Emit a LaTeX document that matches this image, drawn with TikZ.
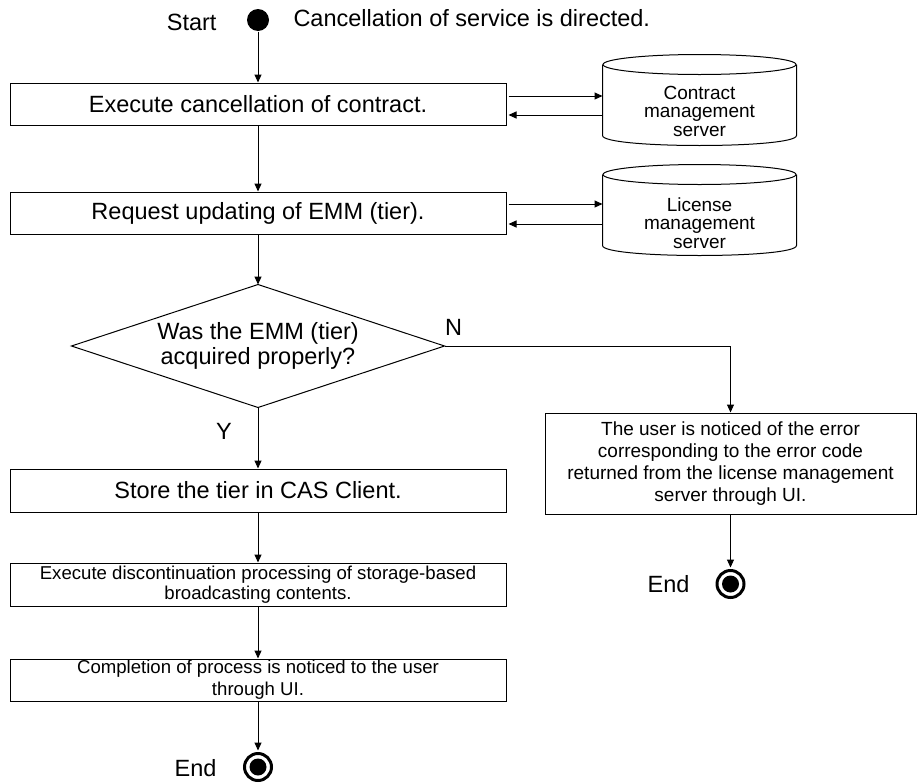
\documentclass[tikz,border=0pt]{standalone}
\usepackage{fontspec}
\setmainfont{Liberation Sans}
\usetikzlibrary{arrows.meta,calc}
\begin{document}
\begin{tikzpicture}[x=1pt,y=-1pt,line width=1pt,
  arr/.style={-{Triangle[length=8pt,width=7pt]}},
  bigfont/.style={font=\fontsize{23.5}{24.5}\selectfont},
  smallfont/.style={font=\fontsize{18.6}{19.5}\selectfont},
  lbl/.style={bigfont,inner sep=0pt},
  stepbox/.style={draw,rectangle,minimum width=496pt,inner sep=0pt,align=center},
  errbox/.style={draw,rectangle,minimum width=371pt,minimum height=101pt,inner sep=0pt,align=center,
    font=\fontsize{19}{22}\selectfont},
  decision/.style={rectangle,minimum width=372pt,minimum height=122pt,inner sep=0pt,align=center,bigfont},
  dbbody/.style={rectangle,minimum width=193pt,minimum height=90pt,inner sep=0pt},
  dbtext/.style={inner sep=0pt,align=center,font=\fontsize{19}{18.5}\selectfont},
  startpt/.style={circle,fill=black,minimum size=22pt,inner sep=0pt},
  endpt/.style={circle,draw,line width=3pt,minimum size=27pt,inner sep=0pt}
]
\useasboundingbox (0,0) rectangle (917,782);

% start
\node[startpt] (start) at (258,20) {};
\node[lbl,anchor=east] (startlbl) at (217,22) {Start};
\node[lbl,anchor=west] (startnote) at (293,18) {Cancellation of service is directed.};

% main column
\node[stepbox,minimum height=42pt,bigfont] (b1) at (258,104) {Execute cancellation of contract.};
\node[stepbox,minimum height=42pt,bigfont] (b2) at (258,213) {Request updating of EMM (tier).};
\node[decision] (dia) at (258,346) {Was the EMM (tier)\\acquired properly?};
\draw (dia.north) -- (dia.east) -- (dia.south) -- (dia.west) -- cycle;
\node[stepbox,minimum height=43pt,bigfont] (b3) at (258,490.5) {Store the tier in CAS Client.};
\node[stepbox,minimum height=43pt,smallfont] (b4) at (258,584.5)
  {Execute discontinuation processing of storage-based\\broadcasting contents.};
\node[stepbox,minimum height=42pt,font=\fontsize{18.6}{22}\selectfont] (b5) at (258,680)
  {Completion of process is noticed to the user\\through UI.};
\node[endpt] (endL) at (258,767) {};
\fill (endL.center) circle (8.5pt);
\node[lbl,anchor=east] (endLlbl) at (217,768) {End};

% error branch
\node[errbox] (err) at (730.5,463.5)
  {The user is noticed of the error\\corresponding to the error code\\returned from the license management\\server through UI.};
\node[endpt] (endR) at (730.5,584) {};
\fill (endR.center) circle (8.5pt);
\node[lbl,anchor=east] (endRlbl) at (690,584) {End};

\node[lbl] (nlbl) at (453.5,327) {N};
\node[lbl] (ylbl) at (224,431) {Y};

% servers
\node[dbbody] (c1) at (699.5,100) {};
\node[dbbody] (c2) at (699.5,210) {};
\foreach \c in {c1,c2}{
  \draw ($(\c.north)+(0,10)$) ellipse [x radius=96.5pt,y radius=10pt];
  \draw ($(\c.north west)+(0,10)$) -- ($(\c.south west)+(0,-10)$)
     .. controls +(0,13.33) and +(0,13.33) .. ($(\c.south east)+(0,-10)$)
     -- ($(\c.north east)+(0,10)$);
}
\node[dbtext] (c1t) at (699.5,111) {Contract\\management\\server};
\node[dbtext] (c2t) at (699.5,223) {License\\management\\server};

% connectors
\draw[arr] (start) -- (b1);
\draw[arr] (b1) -- (b2);
\draw[arr] (b2) -- (dia.north);
\draw[arr] (dia.south) -- (b3);
\draw[arr] (b3) -- (b4);
\draw[arr] (b4) -- (b5);
\draw[arr,shorten >=1.5pt] (b5) -- (endL);
\draw[arr] (dia.east) -| (err.north);
\draw[arr,shorten >=1.5pt] (err) -- (endR);

\draw[arr] ($(b1.east |- 0,96)+(2,0)$) -- (c1.west |- 0,96);
\draw[arr] (c1.west |- 0,115) -- ($(b1.east |- 0,115)+(2,0)$);
\draw[arr] ($(b2.east |- 0,204)+(2,0)$) -- (c2.west |- 0,204);
\draw[arr] (c2.west |- 0,224) -- ($(b2.east |- 0,224)+(2,0)$);
\end{tikzpicture}
\end{document}
